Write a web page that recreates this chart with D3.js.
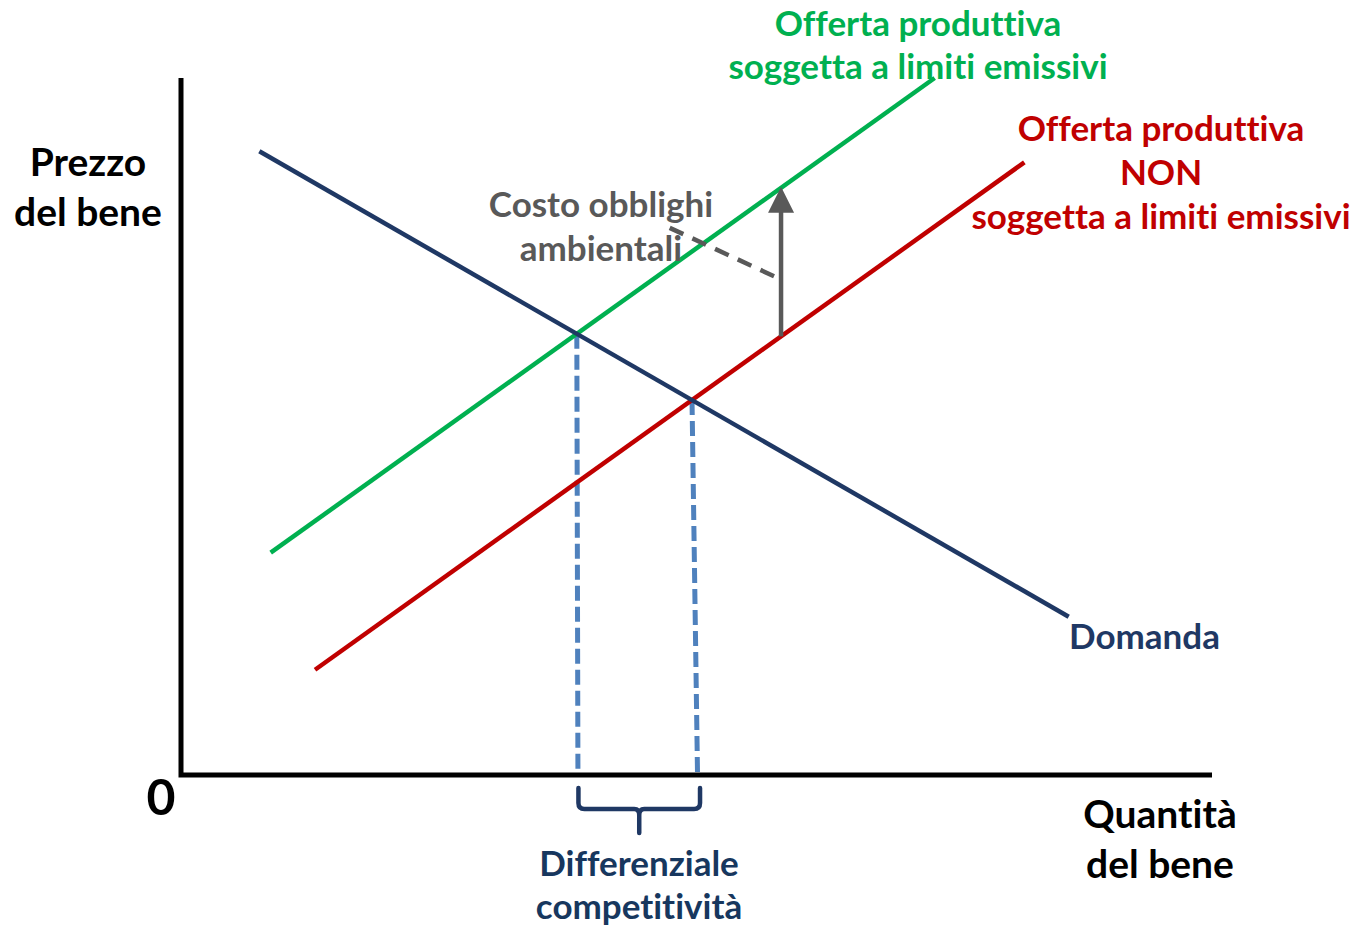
<!DOCTYPE html>
<html>
<head>
<meta charset="utf-8">
<script src="https://cdn.jsdelivr.net/npm/d3@7"></script>
<style>
  body { margin: 0; background: #fff; }
  svg text { font-family: Lato, "Open Sans", sans-serif; font-weight: 700; font-variant-ligatures: none; font-feature-settings: "liga" 0, "clig" 0; }
</style>
</head>
<body>
<svg id="chart" width="1358" height="926"></svg>
<script>
// curves: [quantity, price] end points (arbitrary units 0-100)
var demanda = [[7.6, 89.5], [86.1, 22.7]];
var offertaLimiti = [[8.7, 31.9], [73.1, 100]];
var offertaNon = [[13.0, 15.1], [81.8, 87.9]];

// quantity where the drop lines reach the axis
var dropBottoms = [38.5, 50.1];
// quantity where the cost arrow stands
var arrowQty = 58.2;
// leader line from "Costo obblighi ambientali" to the arrow
var leader = [[47.4, 78.5], [57.9, 71.3]];

var labelOffertaLimiti = ['Offerta produttiva', 'soggetta a limiti emissivi'];
var labelOffertaNon = ['Offerta produttiva', 'NON', 'soggetta a limiti emissivi'];
var labelCosto = ['Costo obblighi', 'ambientali'];
var labelPrezzo = ['Prezzo', 'del bene'];
var labelQuantita = ['Quantità', 'del bene'];
var labelDiff = ['Differenziale', 'competitività'];

var svg = d3.select('#chart');

var x = d3.scaleLinear().domain([0, 100]).range([181, 1212]);
var y = d3.scaleLinear().domain([0, 100]).range([775, 78]);

var line = d3.line()
  .x(function(d) { return x(d[0]); })
  .y(function(d) { return y(d[1]); });

function slope(l) { return (l[1][1] - l[0][1]) / (l[1][0] - l[0][0]); }
function at(l, q) { return l[0][1] + slope(l) * (q - l[0][0]); }
function intersect(a, b) {
  var q = (b[0][1] - slope(b) * b[0][0] - a[0][1] + slope(a) * a[0][0]) / (slope(a) - slope(b));
  return [q, at(a, q)];
}

var eq = [intersect(demanda, offertaLimiti), intersect(demanda, offertaNon)];

// drop lines to the axis
svg.append('g')
  .selectAll('line')
  .data(eq)
  .enter()
  .append('line')
  .attr('x1', function(d) { return x(d[0]); })
  .attr('y1', function(d) { return y(d[1]); })
  .attr('x2', function(d, i) { return x(dropBottoms[i]); })
  .attr('y2', y(0))
  .attr('stroke', '#4F81BD')
  .attr('stroke-width', 5)
  .attr('stroke-dasharray', '15,6');

// curves
var curves = [
  { pts: offertaLimiti, color: '#00B050' },
  { pts: offertaNon, color: '#C00000' },
  { pts: demanda, color: '#1F3864' }
];
svg.append('g')
  .selectAll('path')
  .data(curves)
  .enter()
  .append('path')
  .attr('d', function(d) { return line(d.pts); })
  .attr('fill', 'none')
  .attr('stroke', function(d) { return d.color; })
  .attr('stroke-width', 4.5);

// cost arrow
var ax = x(arrowQty);
var ay0 = y(at(offertaNon, arrowQty));
var ay1 = y(at(offertaLimiti, arrowQty));
svg.append('line')
  .attr('x1', ax).attr('y1', ay0)
  .attr('x2', ax).attr('y2', ay1 + 22)
  .attr('stroke', '#595959')
  .attr('stroke-width', 4.5);
svg.append('path')
  .attr('d', 'M' + ax + ',' + (ay1 - 1) + 'L' + (ax - 13) + ',' + (ay1 + 25) + 'L' + (ax + 13) + ',' + (ay1 + 25) + 'Z')
  .attr('fill', '#595959');

svg.append('path')
  .attr('d', line(leader))
  .attr('fill', 'none')
  .attr('stroke', '#595959')
  .attr('stroke-width', 4.5)
  .attr('stroke-dasharray', '15,10');

// axes
svg.append('path')
  .attr('d', 'M' + x(0) + ',' + y(100) + 'V' + y(0) + 'H' + x(100))
  .attr('fill', 'none')
  .attr('stroke', '#000')
  .attr('stroke-width', 5);

// brace under the gap
var bl = x(dropBottoms[0]) + 0.5, br = x(dropBottoms[1]) + 2.5, bm = (bl + br) / 2;
var bt = y(0) + 13, bh = y(0) + 34, tip = y(0) + 58;
svg.append('path')
  .attr('d',
    'M' + bl + ',' + bt +
    'V' + (bh - 6) + 'Q' + bl + ',' + bh + ' ' + (bl + 6) + ',' + bh +
    'H' + (bm - 5) + 'Q' + bm + ',' + bh + ' ' + bm + ',' + (bh + 6) +
    'V' + tip +
    'M' + bm + ',' + (bh + 6) + 'Q' + bm + ',' + bh + ' ' + (bm + 5) + ',' + bh +
    'H' + (br - 6) + 'Q' + br + ',' + bh + ' ' + br + ',' + (bh - 6) +
    'V' + bt)
  .attr('fill', 'none')
  .attr('stroke', '#1F3864')
  .attr('stroke-width', 4.5)
  .attr('stroke-linecap', 'round');

// text labels
function label(lines, cx, baseline, step, color, size, anchor) {
  svg.append('g')
    .selectAll('text')
    .data(lines)
    .enter()
    .append('text')
    .attr('x', cx)
    .attr('y', function(d, i) { return baseline + i * step; })
    .attr('text-anchor', anchor || 'middle')
    .attr('fill', color)
    .style('font-size', size + 'px')
    .text(function(d) { return d; });
}

label(labelOffertaLimiti, 918, 36, 43, '#00B050', 35);
label(labelOffertaNon, 1161, 141, 44, '#C00000', 35);
label(labelCosto, 601, 217, 44, '#595959', 35);
label(labelPrezzo, 88, 176, 50, '#000', 39);
label(labelQuantita, 1160, 828, 50, '#000', 39);
label(labelDiff, 639, 876, 43, '#17375E', 35);
label(['Domanda'], 1069, 649, 0, '#1F3864', 35, 'start');
label(['0'], 161, 815, 0, '#000', 50);
</script>
</body>
</html>
